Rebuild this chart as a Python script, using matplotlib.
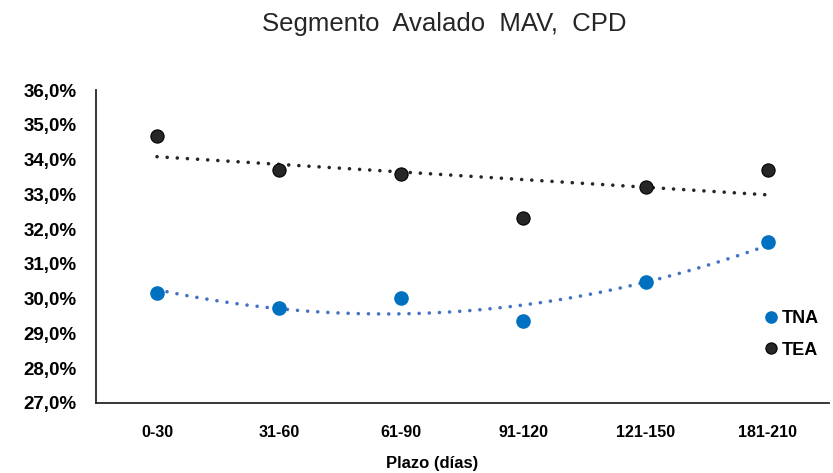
import numpy as np
import matplotlib
matplotlib.use("Agg")
from matplotlib import pyplot as plt
from matplotlib.ticker import FuncFormatter

plazos = ["0-30", "31-60", "61-90", "91-120", "121-150", "181-210"]
tna = [30.16, 29.73, 30.01, 29.35, 30.49, 31.62]
tea = [34.68, 33.70, 33.59, 32.33, 33.21, 33.69]

plt.rcParams["font.family"] = ["Liberation Sans", "DejaVu Sans"]

fig = plt.figure(figsize=(8.33, 4.73), dpi=100)
ax = fig.add_axes([0.1152, 0.148, 0.8798, 0.6617])

x = np.arange(len(plazos))

# trendlines like excel: linear for TEA, 2nd order poly for TNA
xx = np.linspace(0, len(plazos) - 1, 200)
p_tna = np.polyfit(x, tna, 2)
p_tea = np.polyfit(x, tea, 1)
ax.plot(xx, np.polyval(p_tna, xx), color="#4472C4", lw=2.6,
        linestyle=(0, (0.01, 2.8)), dash_capstyle="round", zorder=2)
ax.plot(xx, np.polyval(p_tea, xx), color="#262626", lw=2.6,
        linestyle=(0, (0.01, 2.8)), dash_capstyle="round", zorder=2)

ax.plot(x, tna, "o", ms=9.5, color="#0070C0", mec="#0070C0", label="TNA", zorder=3)
ax.plot(x, tea, "o", ms=9.5, color="#262626", mec="#000000", mew=0.8, label="TEA", zorder=3)

ax.set_xlim(-0.5, len(plazos) - 0.5)
ax.set_ylim(27, 36)
ax.set_yticks(np.arange(27, 36.1, 1))
ax.yaxis.set_major_formatter(FuncFormatter(lambda v, pos: f"{v:.1f}%".replace(".", ",")))
ax.set_xticks(x)
ax.set_xticklabels(plazos, fontweight="bold", fontsize=11.5)
for lab in ax.get_yticklabels():
    lab.set_fontweight("bold")
    lab.set_fontsize(13.5)
ax.tick_params(axis="y", length=0, pad=14, colors="#000000")
ax.tick_params(axis="x", length=0, pad=16, colors="#000000")

for s in ["top", "right"]:
    ax.spines[s].set_visible(False)
for s in ["left", "bottom"]:
    ax.spines[s].set_color("#262626")
    ax.spines[s].set_linewidth(1.3)

leg = ax.legend(loc="lower right", bbox_to_anchor=(1.008, 0.09), frameon=False,
                prop={"weight": "bold", "size": 13},
                handletextpad=0.05, labelspacing=0.8, handlelength=1.0, markerscale=0.85)

fig.text(0.533, 0.95, "Segmento  Avalado  MAV,  CPD", ha="center", va="center",
         fontsize=18.5, color="#262626")
fig.text(0.519, 0.02, "Plazo (días)", ha="center", va="center",
         fontweight="bold", fontsize=12)

fig.savefig("out.png", dpi=100)
